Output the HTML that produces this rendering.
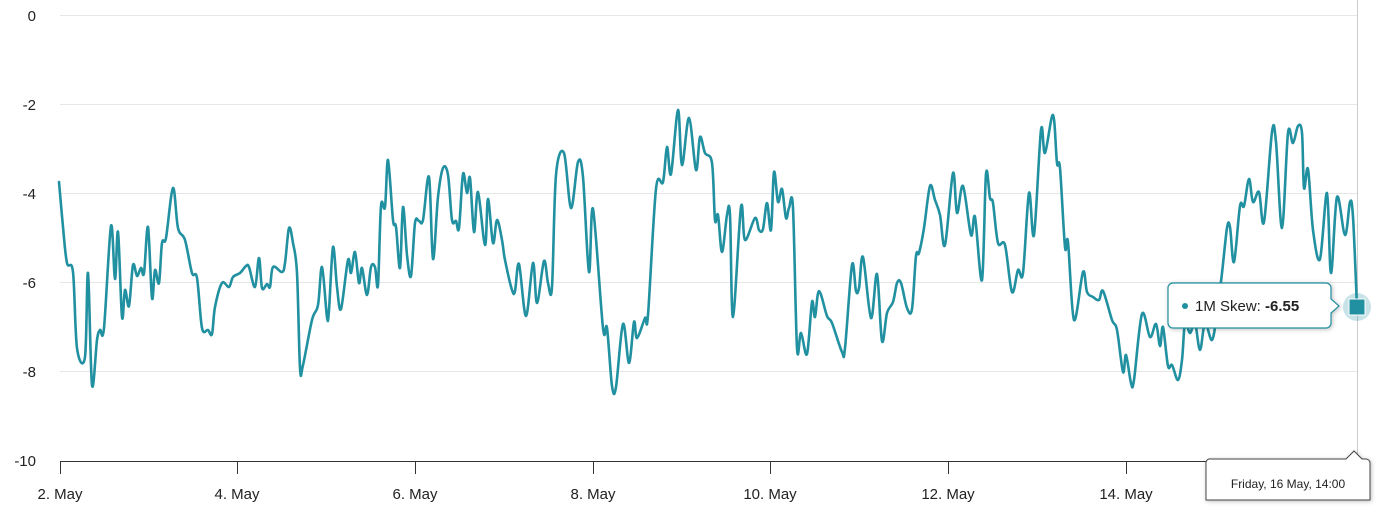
<!DOCTYPE html>
<html><head><meta charset="utf-8"><style>
body{margin:0;background:#fff;width:1378px;height:517px;overflow:hidden;font-family:"Liberation Sans",sans-serif}
svg text{font-family:"Liberation Sans",sans-serif}
</style></head><body>
<svg width="1378" height="517" viewBox="0 0 1378 517">
<g stroke="#e6e6e6" stroke-width="1">
<line x1="60" y1="15.5" x2="1357" y2="15.5"/>
<line x1="60" y1="104.5" x2="1357" y2="104.5"/>
<line x1="60" y1="193.5" x2="1357" y2="193.5"/>
<line x1="60" y1="282.5" x2="1357" y2="282.5"/>
<line x1="60" y1="371.5" x2="1357" y2="371.5"/>
</g>
<line x1="1357.5" y1="0" x2="1357.5" y2="461" stroke="#ccc"/>
<g font-size="15" fill="#222" text-anchor="end">
<text x="36" y="21">0</text>
<text x="36" y="110">-2</text>
<text x="36" y="199">-4</text>
<text x="36" y="288">-6</text>
<text x="36" y="377">-8</text>
<text x="36" y="466">-10</text>
</g>
<line x1="60" y1="461.5" x2="1358" y2="461.5" stroke="#333" stroke-width="1"/>
<g stroke="#333" stroke-width="1">
<line x1="60.5" y1="461" x2="60.5" y2="474"/>
<line x1="237.5" y1="461" x2="237.5" y2="474"/>
<line x1="415.5" y1="461" x2="415.5" y2="474"/>
<line x1="593.5" y1="461" x2="593.5" y2="474"/>
<line x1="770.5" y1="461" x2="770.5" y2="474"/>
<line x1="948.5" y1="461" x2="948.5" y2="474"/>
<line x1="1126.5" y1="461" x2="1126.5" y2="474"/>
</g>
<g font-size="15" fill="#222" text-anchor="middle">
<text x="60" y="499">2. May</text>
<text x="237" y="499">4. May</text>
<text x="415" y="499">6. May</text>
<text x="593" y="499">8. May</text>
<text x="770" y="499">10. May</text>
<text x="948" y="499">12. May</text>
<text x="1126" y="499">14. May</text>
</g>
<path id="ln" fill="none" stroke="#2190a0" stroke-width="2.6" stroke-linejoin="round" stroke-linecap="round"/>
<circle cx="1357" cy="307" r="14" fill="#2190a0" fill-opacity="0.25"/>
<rect x="1349" y="299" width="16" height="16" fill="#2190a0" stroke="#fff" stroke-width="1"/>
<g>
<path d="M1173,283 H1326 a5,5 0 0 1 5,5 V299 L1339,306 L1331,313 V323 a5,5 0 0 1 -5,5 H1173 a5,5 0 0 1 -5,-5 V288 a5,5 0 0 1 5,-5 Z" fill="#fff" stroke="#2190a0" stroke-width="1.2" style="filter:drop-shadow(1px 1px 2px rgba(0,0,0,0.25))"/>
<circle cx="1185" cy="306" r="3" fill="#2190a0"/>
<text x="1195" y="311" font-size="15" fill="#222">1M Skew: <tspan font-weight="bold">-6.55</tspan></text>
</g>
<g>
<path d="M1211,459 H1346 L1354,451 L1362,459 H1366 a4,4 0 0 1 4,4 V500 H1206 V463 a4,4 0 0 1 5,-4 Z" fill="#fff" stroke="#444" stroke-width="1" style="filter:drop-shadow(1px 1px 2px rgba(0,0,0,0.25))"/>
<text x="1288" y="488" font-size="12" fill="#222" text-anchor="middle">Friday, 16 May, 14:00</text>
</g>
</svg>
<script>
var p=[[59,182],[63,227],[67,263],[73,272],[77,348],[85,357],[88,273],[92,385],[97,340],[100,330],[104,328],[111,226],[115,279],[118,232],[122,317],[125,290],[129,306],[133,265],[137,276],[141,268],[144,273],[148,227],[152,298],[155,270],[159,283],[162,243],[166,238],[173,188],[178,228],[185,240],[192,273],[197,278],[202,328],[208,330],[212,334],[215,307],[222,283],[229,287],[233,277],[240,273],[246,266],[249,267],[255,287],[259,258],[262,288],[267,284],[270,287],[273,267],[282,272],[285,263],[289,228],[293,243],[297,273],[300,368],[303,365],[312,320],[318,305],[322,267],[327,317],[329,310],[333,247],[337,287],[341,309],[348,260],[351,273],[355,252],[359,283],[362,268],[367,295],[371,267],[375,267],[378,285],[381,206],[385,207],[388,160],[393,220],[396,227],[400,268],[403,207],[407,255],[411,276],[415,223],[419,221],[423,220],[429,177],[433,259],[438,197],[443,168],[448,175],[452,220],[456,221],[459,228],[463,174],[467,193],[470,178],[474,232],[478,192],[485,245],[488,199],[493,243],[497,220],[502,240],[505,260],[512,290],[515,291],[519,264],[526,316],[533,263],[537,303],[544,261],[548,283],[552,287],[556,175],[564,153],[571,208],[578,162],[583,177],[589,272],[593,209],[603,328],[607,328],[612,386],[616,387],[623,324],[629,363],[634,322],[637,338],[645,318],[648,315],[656,189],[663,182],[667,147],[671,174],[678,110],[682,165],[689,118],[696,170],[700,137],[705,153],[712,163],[715,220],[718,215],[722,252],[727,215],[730,215],[733,317],[741,207],[745,240],[755,218],[759,230],[763,229],[767,203],[771,230],[774,172],[778,202],[782,189],[786,218],[789,208],[793,208],[797,348],[801,333],[807,354],[812,302],[815,317],[819,291],[827,316],[832,323],[842,352],[845,348],[852,265],[856,291],[859,288],[863,257],[871,318],[877,274],[882,341],[887,313],[893,302],[897,283],[901,283],[907,308],[912,309],[916,256],[919,253],[924,228],[930,186],[935,200],[940,215],[945,245],[953,173],[957,213],[963,186],[971,235],[975,217],[982,280],[986,174],[990,198],[993,203],[998,243],[1005,245],[1012,292],[1018,270],[1023,273],[1029,193],[1034,235],[1041,130],[1045,153],[1053,115],[1057,163],[1060,168],[1065,247],[1068,242],[1074,320],[1083,272],[1087,292],[1093,297],[1099,300],[1103,291],[1112,320],[1117,330],[1123,372],[1126,355],[1131,383],[1134,380],[1142,314],[1150,337],[1156,324],[1160,346],[1163,327],[1168,366],[1172,365],[1178,380],[1182,360],[1185,323],[1190,333],[1195,323],[1200,350],[1205,323],[1212,340],[1217,313],[1222,273],[1227,228],[1230,227],[1234,262],[1240,206],[1244,206],[1249,179],[1253,202],[1259,192],[1264,222],[1272,132],[1276,142],[1282,228],[1288,133],[1293,143],[1298,126],[1302,133],[1304,188],[1308,169],[1313,230],[1320,259],[1327,193],[1331,273],[1337,197],[1345,235],[1350,202],[1353,217],[1357,307]];
var d="M"+p[0][0]+","+p[0][1];
for(var i=0;i<p.length-1;i++){var a=p[Math.max(0,i-1)],b=p[i],c=p[i+1],e=p[Math.min(p.length-1,i+2)],t=6;
d+=" C"+(b[0]+(c[0]-a[0])/t).toFixed(1)+","+(b[1]+(c[1]-a[1])/t).toFixed(1)+" "+(c[0]-(e[0]-b[0])/t).toFixed(1)+","+(c[1]-(e[1]-b[1])/t).toFixed(1)+" "+c[0]+","+c[1];}
document.getElementById("ln").setAttribute("d",d);
</script>
</body></html>
